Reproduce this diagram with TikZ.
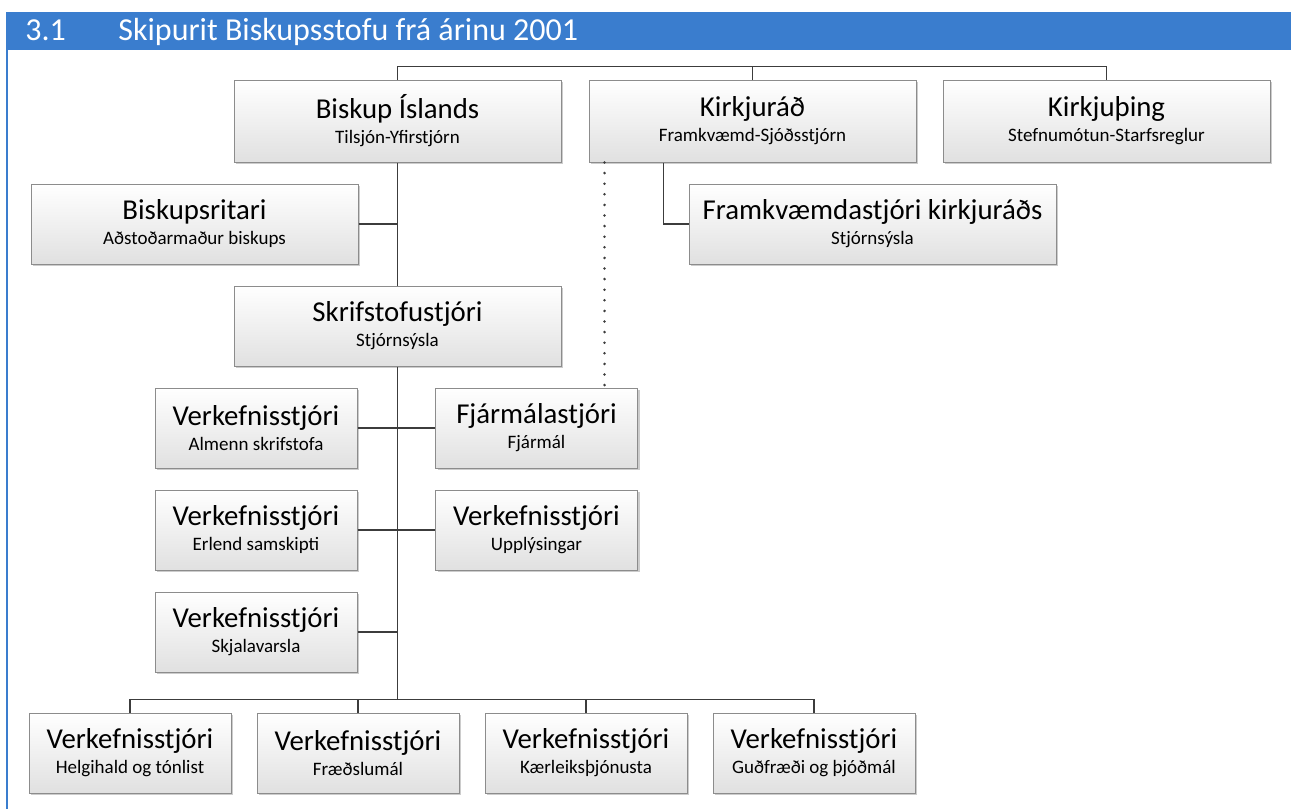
\documentclass[tikz,border=0pt]{standalone}
\usepackage{fontspec}
\setmainfont{Carlito}
\usetikzlibrary{positioning, shadows}
\usepackage{xcolor}
\definecolor{headblue}{HTML}{3A7DCE}
\definecolor{boxline}{HTML}{8C8C8C}
\definecolor{linkline}{HTML}{3C3C3C}
\newcommand{\unitsub}{\fontsize{9.5}{11}\selectfont}

\begin{document}
\begin{tikzpicture}[
    node distance=10pt,
    unit/.style={rectangle, draw=boxline, line width=0.5pt, top color=white, bottom color=black!12,
        drop shadow={shadow xshift=1pt, shadow yshift=-1pt, fill=black!40, opacity=0.5},
        align=center, minimum height=40pt, inner sep=0pt, font=\fontsize{14.4}{16}\selectfont},
    wideunit/.style={unit, minimum width=163.5pt, minimum height=41pt},
    smallunit/.style={unit, minimum width=101pt},
    link/.style={draw=linkline, line width=0.75pt},
    dotlink/.style={draw=linkline, line width=1.4pt, line cap=round, dash pattern=on 0pt off 5.3pt},
    heading/.style={anchor=base west, inner sep=0pt, text=white, font=\fontsize{16}{18}\selectfont}
]
    \useasboundingbox (0,0) rectangle (645.5pt,-404.5pt);

    % Header bar
    \fill[headblue] (3pt,-6pt) rectangle (645.5pt,-25pt);
    \draw[headblue, line width=1pt] (3.5pt,-25pt) -- (3.5pt,-404.5pt);
    \node[heading] (secnum) at (12.5pt,-20pt) {3.1};
    \node[heading] (sectitle) at (59pt,-20pt) {Skipurit Biskupsstofu frá árinu 2001};

    % Top row
    \node[wideunit] (biskup) at (198.75pt,-60.5pt) {Biskup Íslands\\[-3.5pt]{\unitsub Tilsjón-Yfirstjórn}};
    \node[wideunit, right=13.5pt of biskup] (kirkjurad) {Kirkjuráð\\[-3.5pt]{\unitsub Framkvæmd-Sjóðsstjórn}};
    \node[wideunit, right=13pt of kirkjurad] (kirkjuthing) {Kirkjuþing\\[-3.5pt]{\unitsub Stefnumótun-Starfsreglur}};

    % Second row
    \node[wideunit, minimum height=40pt, below left=10.5pt and -62.5pt of biskup] (ritari) {Biskupsritari\\[-3.5pt]{\unitsub Aðstoðarmaður biskups}};
    \node[unit, minimum width=183.5pt, below right=10.5pt and 50pt of kirkjurad.south west] (framkv) {Framkvæmdastjóri kirkjuráðs\\[-3.5pt]{\unitsub Stjórnsýsla}};

    % Office
    \node[wideunit, minimum height=40pt, below=61.5pt of biskup] (skrif) {Skrifstofustjóri\\[-3.5pt]{\unitsub Stjórnsýsla}};

    % Project managers
    \node[smallunit, below left=10.5pt and 20pt of skrif.south] (almenn) {Verkefnisstjóri\\[-3.5pt]{\unitsub Almenn skrifstofa}};
    \node[smallunit, below right=10.5pt and 18.75pt of skrif.south] (fjarmal) {Fjármálastjóri\\[-3.5pt]{\unitsub Fjármál}};
    \node[smallunit, below=10.5pt of almenn] (erlend) {Verkefnisstjóri\\[-3.5pt]{\unitsub Erlend samskipti}};
    \node[smallunit, below=10.5pt of fjarmal] (upplys) {Verkefnisstjóri\\[-3.5pt]{\unitsub Upplýsingar}};
    \node[smallunit, below=10.5pt of erlend] (skjal) {Verkefnisstjóri\\[-3.5pt]{\unitsub Skjalavarsla}};

    % Bottom row
    \node[smallunit, below left=20pt and -38.5pt of skjal.south west] (helgi) {Verkefnisstjóri\\[-3.5pt]{\unitsub Helgihald og tónlist}};
    \node[smallunit, right=12.5pt of helgi] (fraedsla) {Verkefnisstjóri\\[-3.5pt]{\unitsub Fræðslumál}};
    \node[smallunit, right=12.5pt of fraedsla] (kaerleik) {Verkefnisstjóri\\[-3.5pt]{\unitsub Kærleiksþjónusta}};
    \node[smallunit, right=12.5pt of kaerleik] (gudfr) {Verkefnisstjóri\\[-3.5pt]{\unitsub Guðfræði og þjóðmál}};

    % Connections
    \draw[link] (biskup.north) |- ([yshift=6.5pt]kirkjurad.north) -| (kirkjuthing.north);
    \draw[link] (kirkjurad.north) -- ++(0,6.5pt);
    \draw[link] (biskup.south) -- (skrif.north);
    \draw[link] (ritari.east) -- (ritari.east -| biskup.south);
    \draw[link] ([xshift=37.5pt]kirkjurad.south west) |- (framkv.west);
    \draw[dotlink] ([xshift=8pt]kirkjurad.south west) coordinate (dtop) -- (dtop |- fjarmal.north);
    \draw[link] (almenn.east) -- (fjarmal.west);
    \draw[link] (erlend.east) -- (upplys.west);
    \draw[link] (skjal.east) -- (skjal.east -| skrif.south);
    \coordinate (bus) at ([yshift=6.5pt]helgi.north);
    \draw[link] (skrif.south) -- (skrif.south |- bus);
    \draw[link] (helgi.north) -- (bus) -| (gudfr.north);
    \foreach \n in {fraedsla, kaerleik}
        \draw[link] (\n.north) -- (\n.north |- bus);
\end{tikzpicture}
\end{document}
